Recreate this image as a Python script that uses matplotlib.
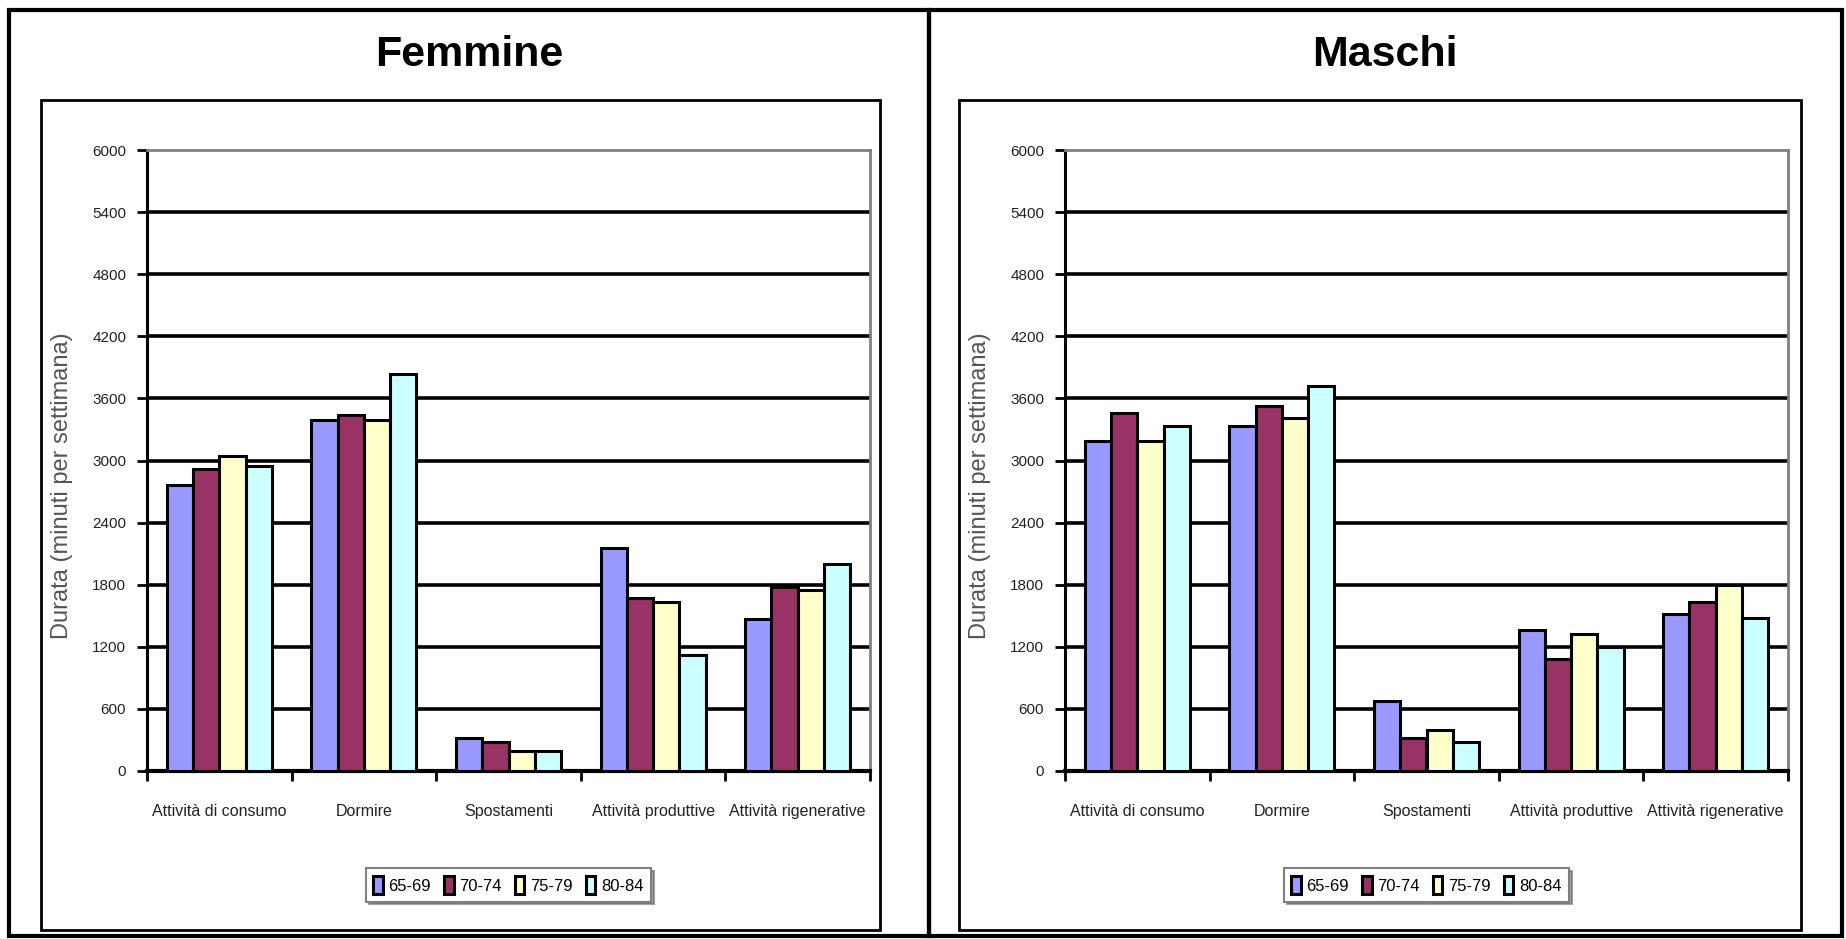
import matplotlib.pyplot as plt
import numpy as np
from matplotlib.patches import Rectangle

categories = ["Attività di consumo", "Dormire", "Spostamenti", "Attività produttive", "Attività rigenerative"]
age_groups = ["65-69", "70-74", "75-79", "80-84"]
colors = ["#9999FF", "#993366", "#FFFFCC", "#CCFFFF"]

femmine_65_69 = [2760, 3390, 320, 2150, 1470]
femmine_70_74 = [2920, 3440, 280, 1670, 1780]
femmine_75_79 = [3040, 3390, 195, 1630, 1750]
femmine_80_84 = [2950, 3835, 195, 1120, 2000]

maschi_65_69 = [3190, 3335, 675, 1360, 1520]
maschi_70_74 = [3460, 3525, 320, 1080, 1635]
maschi_75_79 = [3190, 3410, 395, 1320, 1795]
maschi_80_84 = [3335, 3720, 280, 1200, 1475]

yticks = list(range(0, 6001, 600))

W, H = 1846, 939
fig = plt.figure(figsize=(W / 100, H / 100), dpi=100)
fig.patch.set_facecolor("white")

regular = ["Liberation Sans", "DejaVu Sans"]


def px(x0, y0, x1, y1):
    # pixel box (top-left origin) -> figure fraction rect
    return [x0 / W, 1 - y1 / H, (x1 - x0) / W, (y1 - y0) / H]


# outer panel frames and inner chart-area boxes
for x0, y0, x1, y1, lw in [(9, 10, 929, 936, 3.0), (929, 10, 1842, 936, 3.0),
                           (41, 100, 880, 930, 2.0), (959, 100, 1801, 930, 2.0)]:
    r = px(x0, y0, x1, y1)
    fig.add_artist(Rectangle((r[0], r[1]), r[2], r[3], transform=fig.transFigure,
                             fill=False, edgecolor="black", linewidth=lw, zorder=0))

panels = [
    ("Femmine", [femmine_65_69, femmine_70_74, femmine_75_79, femmine_80_84], 147, 469),
    ("Maschi", [maschi_65_69, maschi_70_74, maschi_75_79, maschi_80_84], 1065, 1385),
]

x = np.arange(len(categories))
w = 0.1815

for title, series, left, title_x in panels:
    ax = fig.add_axes(px(left, 150, left + 723, 771))
    for j, vals in enumerate(series):
        ax.bar(x + (j - 1.5) * w, vals, width=w, color=colors[j], edgecolor="black",
               linewidth=2.2, label=age_groups[j], zorder=3)

    ax.set_xlim(-0.5, len(categories) - 0.5)
    ax.set_ylim(0, 6000)
    ax.set_yticks(yticks)
    ax.set_yticklabels([str(v) for v in yticks], fontsize=11, family=regular, color="#222222")
    for v in yticks[1:-1]:
        ax.axhline(v, color="black", linewidth=2.6, zorder=1)

    ax.set_xticks(np.arange(-0.5, len(categories), 1.0))
    ax.set_xticklabels([])
    ax.set_xticks(x, minor=True)
    ax.set_xticklabels(categories, minor=True, fontsize=11.5, family=regular, color="#222222")
    ax.tick_params(axis="x", which="major", direction="out", length=7, width=2)
    ax.tick_params(axis="x", which="minor", length=0, pad=24)
    ax.tick_params(axis="y", direction="out", length=7, width=2, pad=8)

    ax.spines["left"].set_linewidth(2.2)
    ax.spines["bottom"].set_linewidth(3.0)
    for s in ["top", "right"]:
        ax.spines[s].set_color("#808080")
        ax.spines[s].set_linewidth(2.0)

    ax.set_ylabel("Durata (minuti per settimana)", fontsize=17, family=regular, color="#555555")
    ax.yaxis.set_label_coords(-0.103, 0.46)

    leg = ax.legend(loc="center", bbox_to_anchor=(0.5, -0.1836), ncol=4, frameon=True,
                    fancybox=False, shadow=True, prop={"family": regular, "size": 12},
                    handlelength=0.55, handleheight=1.3, handletextpad=0.35,
                    columnspacing=0.8, borderpad=0.45)
    leg.get_frame().set_edgecolor("#808080")
    leg.get_frame().set_linewidth(1.5)

    fig.text(title_x / W, 1 - 55 / H, title, ha="center", va="center",
             fontsize=31, fontweight="bold", family=regular)

fig.savefig("out.png", dpi=100)
print("saved 'out.png'")
